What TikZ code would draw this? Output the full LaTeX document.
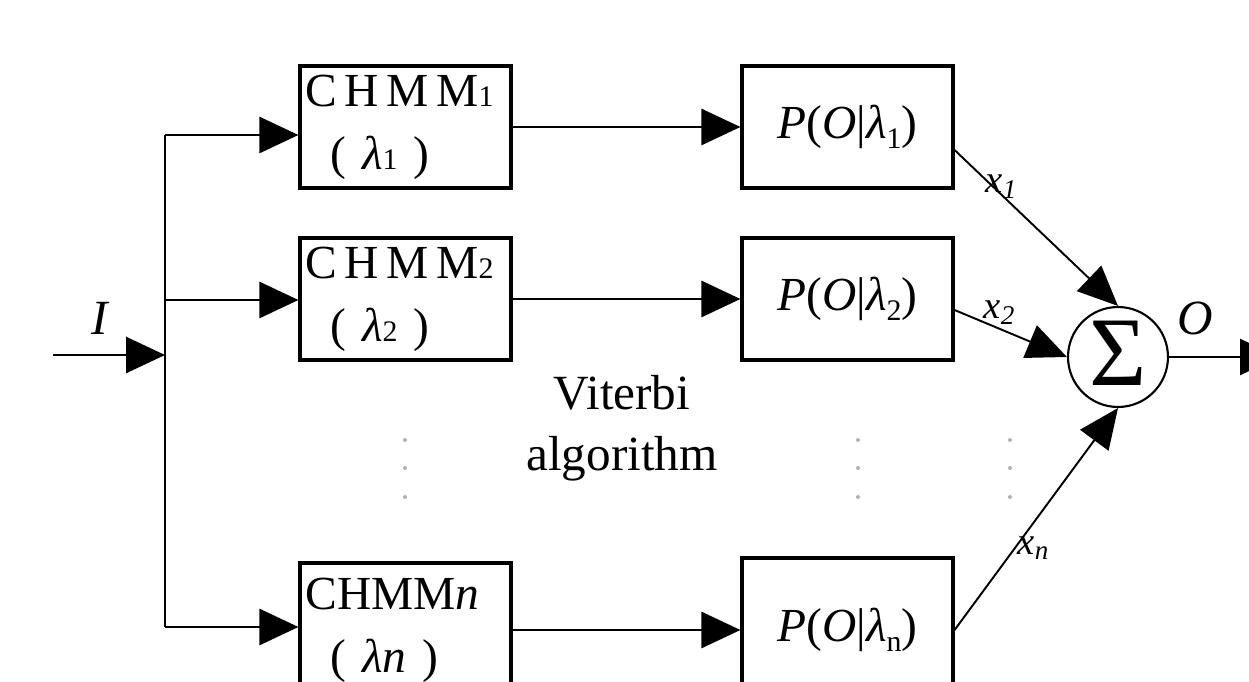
\documentclass[tikz,border=0pt]{standalone}
\usepackage{fontspec}
\setmainfont{Liberation Serif}
\newfontfamily\spaced[LetterSpace=16]{Liberation Serif}
\usetikzlibrary{arrows.meta}
\newcommand\lsub[1]{\raisebox{-0.2em}{\fontsize{17}{17}\selectfont #1}}

\begin{document}
\begin{tikzpicture}[x=0.02cm,y=-0.02cm,
  blk/.style={draw, line width=1.8pt, minimum width=4.22cm, minimum height=2.44cm, inner sep=0pt},
  arr/.style={line width=1.6pt, -{Triangle[length=0.78cm,width=0.72cm]}},
  darr/.style={line width=1.1pt, -{Triangle[length=0.8cm,width=0.7cm]}},
  big/.style={font=\fontsize{27}{36}\selectfont},
  lbl/.style={font=\fontsize{22}{22}\selectfont\itshape, inner sep=0pt},
  dot/.style={fill=gray!60},
]
\useasboundingbox (0,0) rectangle (1249,682);

% model boxes
\node[blk, big, align=left, text width=4.0cm] (c1) at (405.5,127)
  {{\spaced CHMM}{\fontsize{17}{17}\selectfont 1}\\\hspace{0.5cm}( \textit{λ}{\fontsize{17}{17}\selectfont 1} )};
\node[blk, big, align=left, text width=4.0cm] (c2) at (405.5,299)
  {{\spaced CHMM}{\fontsize{17}{17}\selectfont 2}\\\hspace{0.5cm}( \textit{λ}{\fontsize{17}{17}\selectfont 2} )};
\node[blk, big, align=left, text width=4.0cm, minimum height=2.68cm] (cn) at (405.5,630)
  {CHMM\textit{n}\\\hspace{0.5cm}( \textit{λn} )};

% likelihood boxes
\node[blk, big] (p1) at (847.5,127) {\textit{P}(\textit{O}|\textit{λ}\lsub{1})};
\node[blk, big] (p2) at (847.5,299) {\textit{P}(\textit{O}|\textit{λ}\lsub{2})};
\node[blk, big, minimum height=2.88cm] (pn) at (847.5,630) {\textit{P}(\textit{O}|\textit{λ}\lsub{n})};

% summing junction
\node[draw, circle, line width=1.2pt, minimum size=2cm, inner sep=0pt] (s) at (1118,357)
  {\fontsize{56}{56}\selectfont\raisebox{0.08em}{Σ}};

% input and distribution trunk
\coordinate (in) at (53,355);
\coordinate (j) at (165,355);
\coordinate (t1) at (165,135);
\coordinate (t2) at (165,300);
\coordinate (tn) at (165,627);
\node[font=\fontsize{28}{28}\selectfont\itshape] (ilbl) at (100,318) {I};
\draw[arr] (in) -- (j);
\draw[line width=1.6pt] (t1) -- (tn);
\draw[arr] (t1) -- (t1 -| c1.west);
\draw[arr] (t2) -- (t2 -| c2.west);
\draw[arr] (tn) -- (tn -| cn.west);

% model to likelihood
\draw[arr] (c1.east) -- (p1.west);
\draw[arr] (c2.east) -- (p2.west);
\draw[arr] (cn.east) -- (pn.west);

% weighted connections to the sum
\draw[darr] ([yshift=-0.46cm]p1.east) -- node[lbl, pos=0.27, anchor=south west, xshift=-8pt, yshift=-4pt] {x\textsubscript{1}} (s.north);
\draw[darr] ([yshift=-0.22cm]p2.east) -- node[lbl, pos=0.4, anchor=south, yshift=2pt] {x\textsubscript{2}} (s.west);
\draw[darr] ([yshift=0cm]pn.east) -- node[lbl, pos=0.37, anchor=west, xshift=1pt] {x\textsubscript{n}} (s.south);

% output
\coordinate (out) at (1279,357);
\draw[arr] (s.east) -- (out);
\node[font=\fontsize{28}{28}\selectfont\itshape] (olbl) at (1195,318) {O};

% caption in the middle
\node[font=\fontsize{28}{35}\selectfont, align=center] (vit) at (622,428) {Viterbi\\algorithm};

% ellipsis dots
\foreach \x in {405,858,1010}
  \foreach \y in {440,468,497}
    \fill[dot] (\x,\y) circle (2);
\end{tikzpicture}
\end{document}
